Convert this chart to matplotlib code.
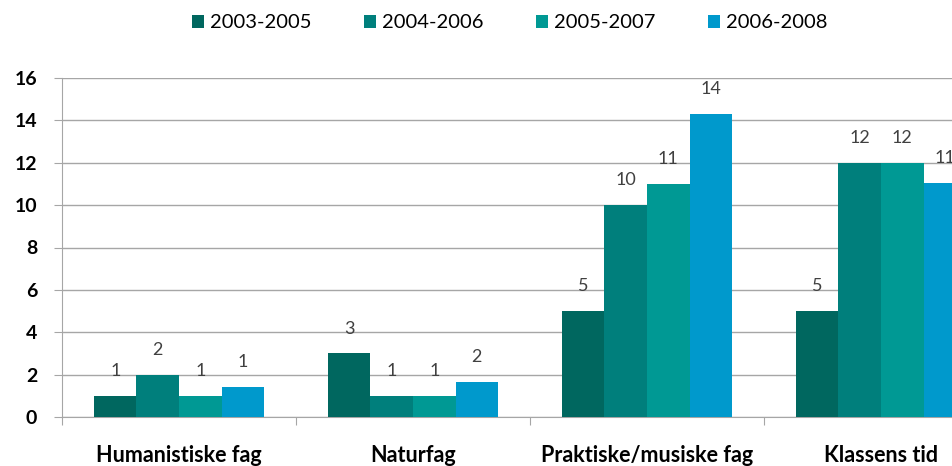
import numpy as np
import matplotlib.pyplot as plt

categories = ['Humanistiske fag', 'Naturfag', 'Praktiske/musiske fag', 'Klassens tid']
series = ['2003-2005', '2004-2006', '2005-2007', '2006-2008']
values = {
    '2003-2005': [1.0, 3.0, 5.0, 5.0],
    '2004-2006': [2.0, 1.0, 10.0, 12.0],
    '2005-2007': [1.0, 1.0, 11.0, 12.0],
    '2006-2008': [1.42, 1.65, 14.3, 11.05],
}
colors = ['#00675f', '#007f7c', '#009994', '#0099cc']
yticks = [0, 2, 4, 6, 8, 10, 12, 14, 16]

plt.rcParams['font.family'] = ['Lato', 'DejaVu Sans']

W, H = 952, 466
fig = plt.figure(figsize=(W / 100, H / 100), dpi=100)
ax = fig.add_axes([62 / W, (H - 417) / H, (998 - 62) / W, (417 - 78) / H])

x = np.arange(len(categories))
bw = 0.727 / len(series)
for i, s in enumerate(series):
    pos = x + (i - 1.5) * bw
    bars = ax.bar(pos, values[s], width=bw, color=colors[i], label=s, zorder=3)
    for b, v in zip(bars, values[s]):
        ax.annotate(f'{round(v):d}', (b.get_x() + b.get_width() / 2, v),
                    xytext=(0, 12), textcoords='offset points',
                    ha='center', va='bottom', fontsize=13, color='#404040')

ax.set_ylim(0, 16)
ax.set_xlim(-0.5, len(categories) - 0.5)
ax.set_yticks(yticks)
ax.set_yticklabels([str(t) for t in yticks], fontweight='bold', fontsize=14)
ax.yaxis.grid(True, color='#a6a6a6', linewidth=1, zorder=0)
ax.set_axisbelow(True)

ax.set_xticks(np.arange(len(categories) + 1) - 0.5)
ax.set_xticklabels([])
ax.set_xticks(x, minor=True)
ax.set_xticklabels(categories, minor=True, fontweight='bold', fontsize=15.5)
ax.tick_params(axis='x', which='minor', length=0, pad=20)
ax.tick_params(axis='x', which='major', length=6, color='#a6a6a6', direction='out')
ax.tick_params(axis='y', length=6, color='#a6a6a6', pad=12)

for side in ['top', 'right']:
    ax.spines[side].set_visible(False)
for side in ['left', 'bottom']:
    ax.spines[side].set_color('#a6a6a6')

fig.legend(loc='center', bbox_to_anchor=(510 / W, 1 - 23 / H), ncol=4, frameon=False,
           fontsize=14.5, handlelength=0.6, handleheight=0.6, handletextpad=0.3,
           columnspacing=2.6)

fig.savefig('out.png', dpi=100)
